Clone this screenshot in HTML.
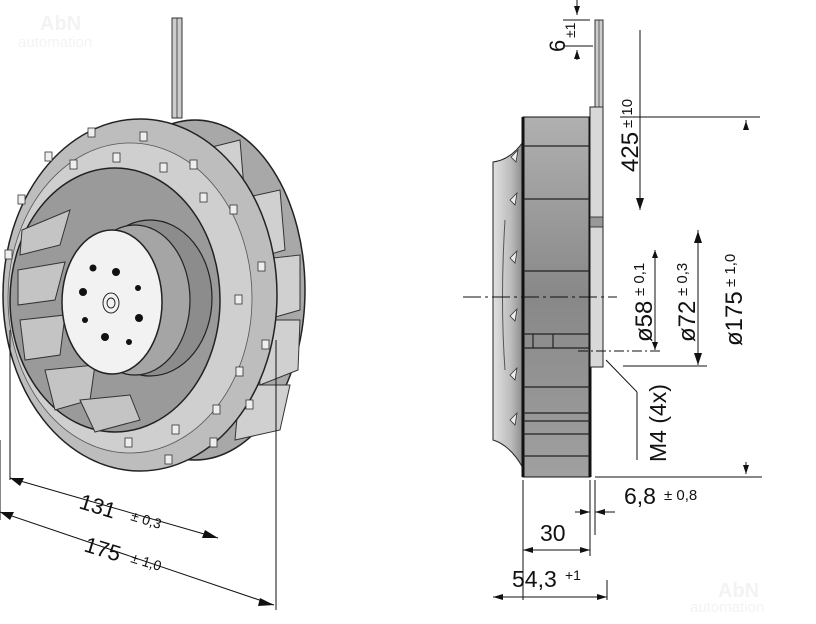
<!DOCTYPE html>
<html><head><meta charset="utf-8"><style>
html,body{margin:0;padding:0;background:#fff;}
svg{display:block}
text{font-family:"Liberation Sans",sans-serif;fill:#111}
</style></head><body>
<svg width="816" height="624" viewBox="0 0 816 624" xmlns="http://www.w3.org/2000/svg">
<defs>
<linearGradient id="g1" x1="0" x2="1"><stop offset="0" stop-color="#e0e0e0"/><stop offset="0.6" stop-color="#bcbcbc"/><stop offset="1" stop-color="#8a8a8a"/></linearGradient>
<linearGradient id="g2" x1="0" x2="0" y1="0" y2="1"><stop offset="0" stop-color="#b0b0b0"/><stop offset="0.5" stop-color="#888"/><stop offset="1" stop-color="#a0a0a0"/></linearGradient>
</defs>
<text x="40" y="30" font-size="20" font-weight="bold" style="fill:#f3f3f3">AbN</text>
<text x="18" y="47" font-size="15" style="fill:#f3f3f3">automation</text>
<text x="718" y="597" font-size="20" font-weight="bold" style="fill:#f3f3f3">AbN</text>
<text x="690" y="612" font-size="15" style="fill:#f3f3f3">automation</text>

<rect x="172" y="18" width="10" height="100" fill="#ccc" stroke="#333" stroke-width="1"/>
<line x1="177" y1="18" x2="177" y2="118" stroke="#333" stroke-width="0.8"/>
<ellipse cx="195" cy="290" rx="110" ry="170" fill="#a8a8a8" stroke="#222" stroke-width="1.5"/>
<g stroke="#333" stroke-width="1" fill="#d0d0d0">
<polygon points="200,150 240,140 245,200 215,215"/>
<polygon points="235,200 280,190 285,250 250,260"/>
<polygon points="255,260 300,255 300,310 265,320"/>
<polygon points="255,320 300,320 298,370 260,385"/>
<polygon points="240,385 290,385 280,430 235,440"/>
</g>
<ellipse cx="140" cy="295" rx="137" ry="176" fill="#bdbdbd" stroke="#222" stroke-width="1.5"/>
<ellipse cx="130" cy="298" rx="122" ry="155" fill="#cfcfcf" stroke="#555" stroke-width="0.8"/>
<ellipse cx="115" cy="300" rx="105" ry="132" fill="#9a9a9a" stroke="#222" stroke-width="1.5"/>
<g stroke="#333" stroke-width="1" fill="#c4c4c4">
<polygon points="22,230 70,210 60,245 20,255"/>
<polygon points="18,270 65,262 55,300 18,305"/>
<polygon points="20,320 65,315 60,355 25,360"/>
<polygon points="45,370 95,365 90,400 55,410"/>
<polygon points="80,400 130,395 140,420 95,432"/>
</g>
<ellipse cx="150" cy="298" rx="62" ry="78" fill="#8c8c8c" stroke="#222" stroke-width="1.2"/>
<ellipse cx="135" cy="300" rx="55" ry="75" fill="#a5a5a5" stroke="#222" stroke-width="1.2"/>
<ellipse cx="112" cy="302" rx="50" ry="72" fill="#f2f2f2" stroke="#222" stroke-width="1.5"/>
<g fill="#111">
<circle cx="93" cy="268" r="3.5"/><circle cx="116" cy="272" r="4"/><circle cx="138" cy="288" r="3"/>
<circle cx="83" cy="292" r="4"/><circle cx="139" cy="318" r="4"/><circle cx="85" cy="320" r="3"/>
<circle cx="105" cy="337" r="4"/><circle cx="129" cy="342" r="3"/>
</g>
<ellipse cx="111" cy="303" rx="8" ry="10" fill="none" stroke="#222"/>
<ellipse cx="111" cy="303" rx="4" ry="5" fill="none" stroke="#222"/>
<g fill="#eee" stroke="#333" stroke-width="0.8">
<rect x="88" y="128" width="7" height="9"/><rect x="140" y="132" width="7" height="9"/><rect x="190" y="160" width="7" height="9"/>
<rect x="230" y="205" width="7" height="9"/><rect x="258" y="262" width="7" height="9"/><rect x="262" y="340" width="7" height="9"/>
<rect x="246" y="400" width="7" height="9"/><rect x="210" y="438" width="7" height="9"/><rect x="165" y="455" width="7" height="9"/>
<rect x="45" y="152" width="7" height="9"/><rect x="18" y="195" width="7" height="9"/><rect x="5" y="250" width="7" height="9"/>
<rect x="113" y="153" width="7" height="9"/><rect x="160" y="163" width="7" height="9"/><rect x="200" y="193" width="7" height="9"/>
<rect x="235" y="295" width="7" height="9"/><rect x="236" y="367" width="7" height="9"/><rect x="213" y="405" width="7" height="9"/>
<rect x="172" y="425" width="7" height="9"/><rect x="70" y="160" width="7" height="9"/><rect x="125" y="438" width="7" height="9"/>
</g>
<g stroke="#111" stroke-width="1" fill="none">
<line x1="10" y1="330" x2="10" y2="480"/><line x1="0" y1="440" x2="0" y2="520"/>
<line x1="276" y1="340" x2="276" y2="610"/>
<line x1="10" y1="478" x2="218" y2="538"/>
<line x1="0" y1="512" x2="274" y2="605"/>
</g>
<polygon points="10,478 24,478 20,486" fill="#111"/>
<polygon points="218,538 205,530 202,538" fill="#111"/>
<polygon points="0,512 14,512 10,520" fill="#111"/>
<polygon points="274,605 260,598 258,606" fill="#111"/>
<text x="78" y="508" font-size="22" transform="rotate(17 78 508)">131</text>
<text x="130" y="520" font-size="14" transform="rotate(17 130 520)">± 0,3</text>
<text x="83" y="551" font-size="22" transform="rotate(17 83 551)">175</text>
<text x="130" y="562" font-size="14" transform="rotate(17 130 562)">± 1,0</text>

<path d="M523,142 Q510,160 493,162 L493,440 Q510,445 523,468 Z" fill="url(#g1)" stroke="#222" stroke-width="1"/>
<g fill="#eee" stroke="#333" stroke-width="0.8">
<polygon points="511,157 518,150 516,162"/><polygon points="510,200 517,193 515,205"/><polygon points="510,258 517,251 515,263"/>
<polygon points="510,316 517,309 515,321"/><polygon points="510,375 517,368 515,380"/><polygon points="510,420 517,413 515,425"/>
</g>
<path d="M505,220 Q500,300 505,370" fill="none" stroke="#555" stroke-width="1"/>
<rect x="523" y="117" width="67" height="360" fill="url(#g2)" stroke="#111" stroke-width="1"/>
<line x1="523" y1="117" x2="523" y2="477" stroke="#111" stroke-width="3"/>
<line x1="590" y1="117" x2="590" y2="477" stroke="#111" stroke-width="3"/>
<g stroke="#222" stroke-width="1.2">
<line x1="523" y1="146" x2="590" y2="146"/><line x1="523" y1="199" x2="590" y2="199"/><line x1="523" y1="271" x2="590" y2="271"/>
<line x1="523" y1="334" x2="590" y2="334"/><line x1="523" y1="348" x2="590" y2="348"/><line x1="523" y1="387" x2="590" y2="387"/>
<line x1="523" y1="413" x2="590" y2="413"/><line x1="523" y1="421" x2="590" y2="421"/><line x1="523" y1="434" x2="590" y2="434"/>
<line x1="523" y1="456" x2="590" y2="456"/><line x1="553" y1="334" x2="553" y2="348"/><line x1="533" y1="334" x2="533" y2="348"/>
</g>
<rect x="590" y="107" width="13" height="260" fill="#d8d8d8" stroke="#222" stroke-width="1"/>
<rect x="590" y="217" width="13" height="10" fill="#999" stroke="#222" stroke-width="0.8"/>
<rect x="595" y="20" width="8" height="87" fill="#ccc" stroke="#333" stroke-width="1"/>
<line x1="599" y1="20" x2="599" y2="107" stroke="#333" stroke-width="0.7"/>
<g stroke="#111" stroke-width="1" fill="none">
<line x1="463" y1="297" x2="617" y2="297" stroke-dasharray="18,4,3,4"/>
<line x1="578" y1="351" x2="662" y2="351" stroke-dasharray="10,3,2,3"/>
<line x1="620" y1="117" x2="760" y2="117"/>
<line x1="623" y1="366" x2="707" y2="366"/>
<line x1="595" y1="477" x2="762" y2="477"/>
<line x1="563" y1="20" x2="590" y2="20"/><line x1="563" y1="46" x2="593" y2="46"/>
<line x1="577" y1="0" x2="577" y2="15"/><line x1="577" y1="50" x2="577" y2="60"/>
<line x1="640" y1="30" x2="640" y2="210"/>
<line x1="655" y1="250" x2="655" y2="350"/>
<line x1="698" y1="230" x2="698" y2="365"/>
<line x1="746" y1="120" x2="746" y2="130"/><line x1="746" y1="462" x2="746" y2="474"/>
<line x1="606" y1="360" x2="637" y2="392"/><line x1="637" y1="392" x2="637" y2="460"/>
<line x1="523" y1="480" x2="523" y2="600"/><line x1="590" y1="480" x2="590" y2="556"/><line x1="595" y1="480" x2="595" y2="535"/>
<line x1="607" y1="600" x2="607" y2="580"/>
<line x1="523" y1="550" x2="590" y2="550"/>
<line x1="493" y1="597" x2="607" y2="597"/>
<line x1="575" y1="512" x2="590" y2="512"/><line x1="595" y1="512" x2="615" y2="512"/>
</g>
<g fill="#111">
<polygon points="577,15 574,6 580,6"/><polygon points="577,50 574,59 580,59"/>
<polygon points="640,210 636,198 644,198"/>
<polygon points="655,250 652,258 658,258"/><polygon points="655,350 652,342 658,342"/>
<polygon points="698,231 694,243 702,243"/><polygon points="698,365 694,353 702,353"/>
<polygon points="746,121 743,130 749,130"/><polygon points="746,474 743,465 749,465"/>
<polygon points="523,550 533,547 533,553"/><polygon points="590,550 580,547 580,553"/>
<polygon points="590,512 580,509 580,515"/><polygon points="595,512 605,509 605,515"/>
<polygon points="493,597 503,594 503,600"/><polygon points="607,597 597,594 597,600"/>
</g>
<text transform="translate(565,52) rotate(-90)" font-size="22">6</text>
<text transform="translate(575,38) rotate(-90)" font-size="14">±1</text>
<text transform="translate(638,172) rotate(-90)" font-size="24">425</text>
<text transform="translate(632,128) rotate(-90)" font-size="15">± 10</text>
<text transform="translate(652,342) rotate(-90)" font-size="24">ø58</text>
<text transform="translate(644,296) rotate(-90)" font-size="15">± 0,1</text>
<text transform="translate(695,342) rotate(-90)" font-size="24">ø72</text>
<text transform="translate(687,296) rotate(-90)" font-size="15">± 0,3</text>
<text transform="translate(742,346) rotate(-90)" font-size="24">ø175</text>
<text transform="translate(735,287) rotate(-90)" font-size="15">± 1,0</text>
<text transform="translate(666,462) rotate(-90)" font-size="23">M4 (4x)</text>
<text x="624" y="504" font-size="23">6,8</text>
<text x="664" y="500" font-size="15">± 0,8</text>
<text x="540" y="541" font-size="23">30</text>
<text x="512" y="587" font-size="23">54,3</text>
<text x="565" y="580" font-size="14">+1</text>
</svg>
</body></html>
